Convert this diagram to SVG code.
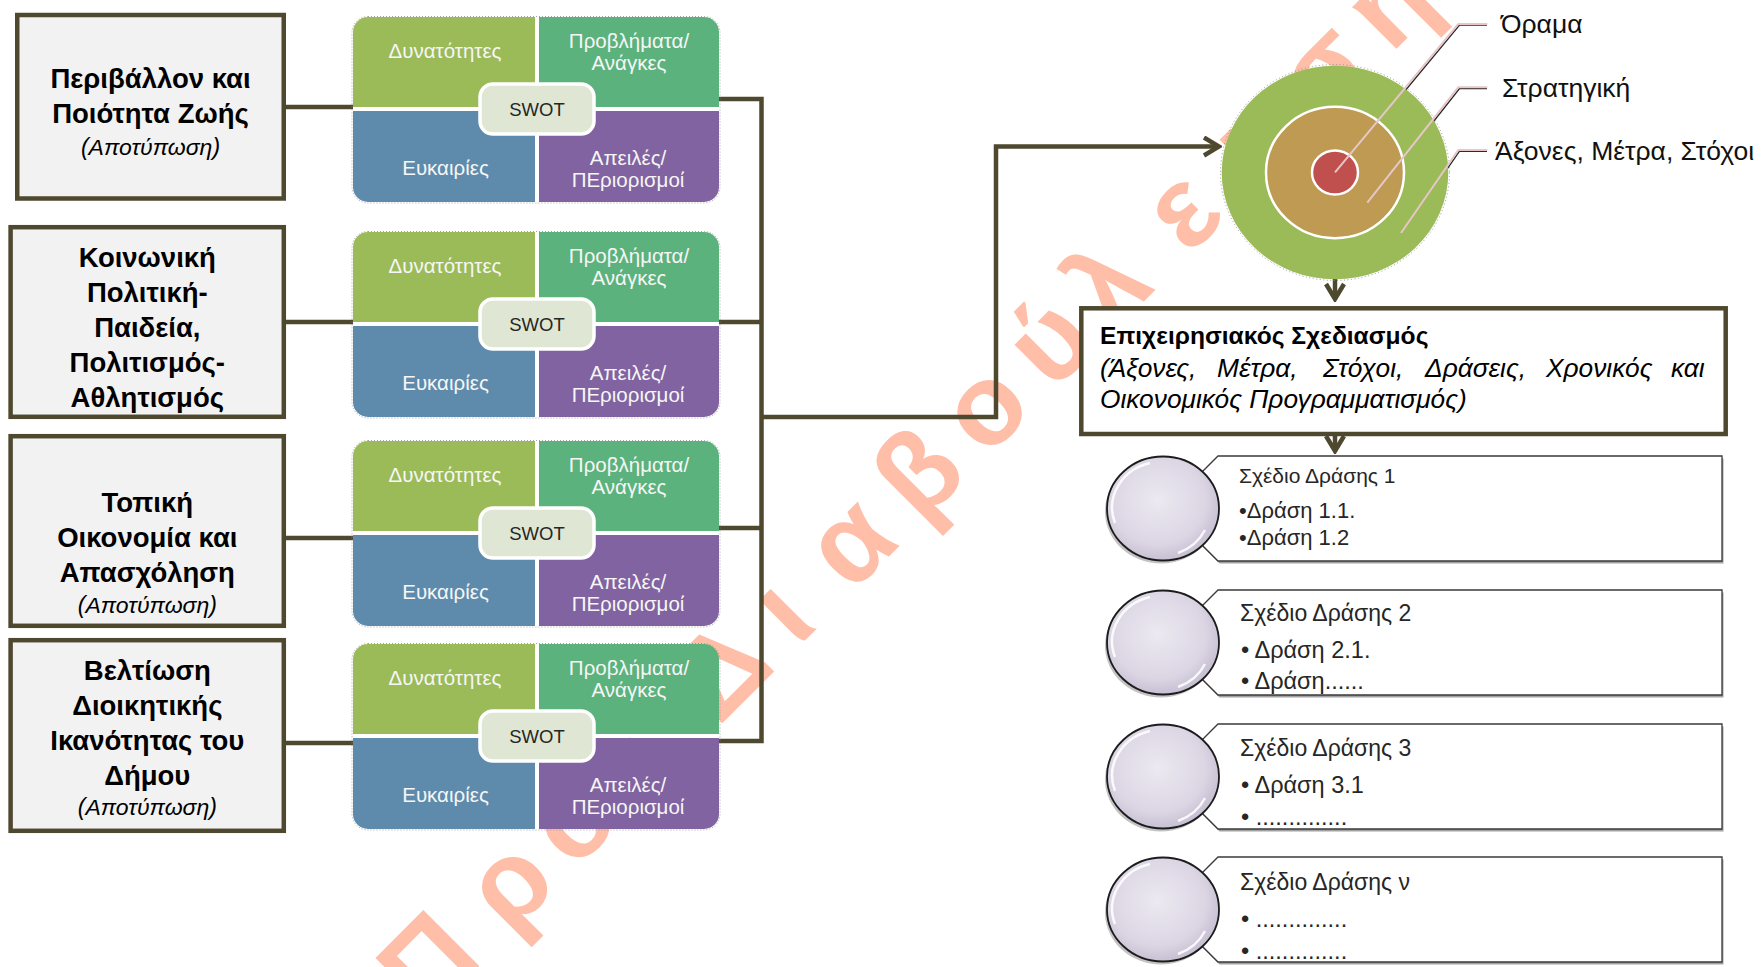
<svg xmlns="http://www.w3.org/2000/svg" width="1762" height="967" viewBox="0 0 1762 967">
<defs>
<style>
.bg{fill:#ffffff}
.wm{font-family:"Liberation Sans",Arial,sans-serif;font-weight:bold;font-size:115px;fill:#ffbea8;text-anchor:middle}
.box{fill:#f2f2f2;stroke:#4e482f;stroke-width:4.5}
.conn{fill:none;stroke:#4e482f;stroke-width:4.5;stroke-linejoin:miter}
.bt{font-family:"Liberation Sans",Arial,sans-serif;font-weight:bold;font-size:27.5px;fill:#000;text-anchor:middle}
.it{font-family:"Liberation Sans",Arial,sans-serif;font-style:italic;font-size:23px;fill:#000;text-anchor:middle}
.q{font-family:"Liberation Sans",Arial,sans-serif;font-size:20.5px;fill:#f6f6f6;text-anchor:middle}
.sw{font-family:"Liberation Sans",Arial,sans-serif;font-size:18.5px;fill:#262626;text-anchor:middle}
.qS{fill:#9bbb59}.qW{fill:#5cb27c}.qO{fill:#5e8bac}.qT{fill:#8063a0}
.lab{fill:#dfe7d4;stroke:#ffffff;stroke-width:3.5}
.sh{fill:none;stroke:#8a8a8a;stroke-width:0.8;stroke-dasharray:1 2}
.tl{font-family:"Liberation Sans",Arial,sans-serif;font-size:26.5px;fill:#111}
.lead{fill:none;stroke:#e6c6c6;stroke-width:2}
.leadsh{fill:none;stroke:#2a2a2a;stroke-width:1.4}
.op{fill:#ffffff;stroke:#4e482f;stroke-width:4.5}
.opb{font-family:"Liberation Sans",Arial,sans-serif;font-weight:bold;font-size:24.6px;fill:#000}
.opi{font-family:"Liberation Sans",Arial,sans-serif;font-style:italic;font-size:26.3px;fill:#000}
.ban{fill:#ffffff;stroke:#3a3a3a;stroke-width:1.3}
.bansh{fill:#6e6e6e;opacity:0.65}
.ball{fill:url(#ball);stroke:#1c1c1c;stroke-width:1.8}
.ballsh{fill:#7a7a7a;opacity:0.45}
.hl{fill:none;stroke:#ffffff;stroke-width:2.5;opacity:0.85}
.pt{font-family:"Liberation Sans",Arial,sans-serif;fill:#262626}
</style>
<marker id="chev" markerUnits="userSpaceOnUse" viewBox="0 0 20 22" markerWidth="20" markerHeight="22" refX="17" refY="11" orient="auto">
<path d="M2,2 L17,11 L2,20" fill="none" stroke="#4e482f" stroke-width="4.5"/>
</marker>
<radialGradient id="ball" cx="0.45" cy="0.42" r="0.6">
<stop offset="0" stop-color="#ece9f1"/>
<stop offset="0.7" stop-color="#dcd6e4"/>
<stop offset="1" stop-color="#c5bdd1"/>
</radialGradient>
</defs>

<rect class="bg" x="0" y="0" width="1762" height="967"/>

<text class="wm" transform="rotate(-45)" x="-378 -265 -175 -100 -40 36 121 218 315 408 500 582 687 790 885 980" y="1022">Προς Διαβούλευση</text>

<g id="connectors">
<path class="conn" d="M286,107 H353"/>
<path class="conn" d="M286,322 H353"/>
<path class="conn" d="M286,538 H353"/>
<path class="conn" d="M286,743 H353"/>
<path class="conn" d="M719,99 H761.5 V741 H719"/>
<path class="conn" d="M719,322 H761.5"/>
<path class="conn" d="M719,528 H761.5"/>
<path class="conn" d="M761.5,417 H996 V146.5 H1219" marker-end="url(#chev)"/>
<path class="conn" d="M1335,279 V299" marker-end="url(#chev)"/>
<path class="conn" d="M1335,436 V451" marker-end="url(#chev)"/>
</g>

<g id="box1">
<rect class="box" x="17.25" y="15" width="266.5" height="183.5"/>
<text class="bt" x="150.5" y="87.5">Περιβάλλον και</text>
<text class="bt" x="150.5" y="122.5">Ποιότητα Ζωής</text>
<text class="it" x="150.5" y="154.5">(Αποτύπωση)</text>
</g>
<g id="box2">
<rect class="box" x="10.6" y="227.2" width="273.2" height="189.6"/>
<text class="bt" x="147.3" y="266.5">Κοινωνική</text>
<text class="bt" x="147.3" y="301.5">Πολιτική-</text>
<text class="bt" x="147.3" y="336.5">Παιδεία,</text>
<text class="bt" x="147.3" y="371.5">Πολιτισμός-</text>
<text class="bt" x="147.3" y="406.5">Αθλητισμός</text>
</g>
<g id="box3">
<rect class="box" x="10.6" y="436.2" width="273.2" height="189.6"/>
<text class="bt" x="147.3" y="511.5">Τοπική</text>
<text class="bt" x="147.3" y="546.5">Οικονομία και</text>
<text class="bt" x="147.3" y="582">Απασχόληση</text>
<text class="it" x="147.3" y="613">(Αποτύπωση)</text>
</g>
<g id="box4">
<rect class="box" x="10.6" y="640.2" width="273.2" height="190.6"/>
<text class="bt" x="147.3" y="679.5">Βελτίωση</text>
<text class="bt" x="147.3" y="715">Διοικητικής</text>
<text class="bt" x="147.3" y="750">Ικανότητας του</text>
<text class="bt" x="147.3" y="784.5">Δήμου</text>
<text class="it" x="147.3" y="815">(Αποτύπωση)</text>
</g>

<g id="swot1" transform="translate(0,17)">
<rect class="sh" x="352" y="-0.5" width="368" height="186.5" rx="16"/>
<path class="qS" d="M368,0 H535 V90 H353 V15 A15,15 0 0 1 368,0 Z"/>
<path class="qW" d="M539,0 H704 A15,15 0 0 1 719,15 V90 H539 Z"/>
<path class="qO" d="M353,94 H535 V185 H368 A15,15 0 0 1 353,170 Z"/>
<path class="qT" d="M539,94 H719 V170 A15,15 0 0 1 704,185 H539 Z"/>
<text class="q" x="445" y="40.5">Δυνατότητες</text>
<text class="q" x="629" y="30.5">Προβλήματα/</text>
<text class="q" x="629" y="53">Ανάγκες</text>
<text class="q" x="445.5" y="157.5">Ευκαιρίες</text>
<text class="q" x="628" y="147.5">Απειλές/</text>
<text class="q" x="628" y="169.5">ΠΕριορισμοί</text>
<rect class="lab" x="480" y="67" width="114" height="50" rx="13"/>
<text class="sw" x="537" y="98.5">SWOT</text>
</g>
<g id="swot2" transform="translate(0,232)">
<rect class="sh" x="352" y="-0.5" width="368" height="186.5" rx="16"/>
<path class="qS" d="M368,0 H535 V90 H353 V15 A15,15 0 0 1 368,0 Z"/>
<path class="qW" d="M539,0 H704 A15,15 0 0 1 719,15 V90 H539 Z"/>
<path class="qO" d="M353,94 H535 V185 H368 A15,15 0 0 1 353,170 Z"/>
<path class="qT" d="M539,94 H719 V170 A15,15 0 0 1 704,185 H539 Z"/>
<text class="q" x="445" y="40.5">Δυνατότητες</text>
<text class="q" x="629" y="30.5">Προβλήματα/</text>
<text class="q" x="629" y="53">Ανάγκες</text>
<text class="q" x="445.5" y="157.5">Ευκαιρίες</text>
<text class="q" x="628" y="147.5">Απειλές/</text>
<text class="q" x="628" y="169.5">ΠΕριορισμοί</text>
<rect class="lab" x="480" y="67" width="114" height="50" rx="13"/>
<text class="sw" x="537" y="98.5">SWOT</text>
</g>
<g id="swot3" transform="translate(0,441)">
<rect class="sh" x="352" y="-0.5" width="368" height="186.5" rx="16"/>
<path class="qS" d="M368,0 H535 V90 H353 V15 A15,15 0 0 1 368,0 Z"/>
<path class="qW" d="M539,0 H704 A15,15 0 0 1 719,15 V90 H539 Z"/>
<path class="qO" d="M353,94 H535 V185 H368 A15,15 0 0 1 353,170 Z"/>
<path class="qT" d="M539,94 H719 V170 A15,15 0 0 1 704,185 H539 Z"/>
<text class="q" x="445" y="40.5">Δυνατότητες</text>
<text class="q" x="629" y="30.5">Προβλήματα/</text>
<text class="q" x="629" y="53">Ανάγκες</text>
<text class="q" x="445.5" y="157.5">Ευκαιρίες</text>
<text class="q" x="628" y="147.5">Απειλές/</text>
<text class="q" x="628" y="169.5">ΠΕριορισμοί</text>
<rect class="lab" x="480" y="67" width="114" height="50" rx="13"/>
<text class="sw" x="537" y="98.5">SWOT</text>
</g>
<g id="swot4" transform="translate(0,644)">
<rect class="sh" x="352" y="-0.5" width="368" height="186.5" rx="16"/>
<path class="qS" d="M368,0 H535 V90 H353 V15 A15,15 0 0 1 368,0 Z"/>
<path class="qW" d="M539,0 H704 A15,15 0 0 1 719,15 V90 H539 Z"/>
<path class="qO" d="M353,94 H535 V185 H368 A15,15 0 0 1 353,170 Z"/>
<path class="qT" d="M539,94 H719 V170 A15,15 0 0 1 704,185 H539 Z"/>
<text class="q" x="445" y="40.5">Δυνατότητες</text>
<text class="q" x="629" y="30.5">Προβλήματα/</text>
<text class="q" x="629" y="53">Ανάγκες</text>
<text class="q" x="445.5" y="157.5">Ευκαιρίες</text>
<text class="q" x="628" y="147.5">Απειλές/</text>
<text class="q" x="628" y="169.5">ΠΕριορισμοί</text>
<rect class="lab" x="480" y="67" width="114" height="50" rx="13"/>
<text class="sw" x="537" y="98.5">SWOT</text>
</g>

<g id="target">
<path class="leadsh" d="M1336.5,173.5 L1459.5,25 H1487"/>
<path class="leadsh" d="M1368.5,204 L1459.5,88.5 H1487"/>
<path class="leadsh" d="M1402,234 L1459.5,151.2 H1487"/>
<ellipse cx="1335" cy="172.5" rx="114.5" ry="108" fill="none" stroke="#8a8a8a" stroke-width="0.9" stroke-dasharray="1 2.5"/>
<ellipse cx="1335" cy="172.5" rx="113.3" ry="106.8" fill="#9bbb59"/>
<ellipse cx="1335" cy="172.5" rx="69" ry="65.7" fill="#bf9a52" stroke="#ffffff" stroke-width="2.5"/>
<ellipse cx="1335" cy="172.5" rx="23" ry="22" fill="#c0504d" stroke="#ffffff" stroke-width="2.5"/>
<path class="lead" d="M1335,172.3 L1458.3,24 H1487.3"/>
<path class="lead" d="M1367.3,202.7 L1458.3,87.3 H1487.3"/>
<path class="lead" d="M1401,233 L1458.3,150 H1487.3"/>
<text class="tl" x="1501" y="33">Όραμα</text>
<text class="tl" x="1502" y="97">Στρατηγική</text>
<text class="tl" x="1495" y="160">Άξονες, Μέτρα, Στόχοι</text>
</g>

<g id="operational">
<rect class="op" x="1081.3" y="308.3" width="644.4" height="125.7"/>
<text class="opb" x="1100" y="344">Επιχειρησιακός Σχεδιασμός</text>
<text class="opi" y="377"><tspan x="1100">(Άξονες,</tspan><tspan x="1217">Μέτρα,</tspan><tspan x="1323">Στόχοι,</tspan><tspan x="1425">Δράσεις,</tspan><tspan x="1546">Χρονικός</tspan><tspan x="1671">και</tspan></text>
<text class="opi" x="1100" y="408">Οικονομικός Προγραμματισμός)</text>
</g>

<g id="plan1">
<polygon class="bansh" points="1219.5,458.5 1723.5,458.5 1723.5,563.5 1219.5,563.5 1167,511"/>
<polygon class="ban" points="1218,456 1722,456 1722,561 1218,561 1165.5,508.5"/>
<ellipse class="ballsh" cx="1161" cy="511.5" rx="56" ry="52"/>
<ellipse class="ball" cx="1163" cy="508.5" rx="56" ry="52"/>
<path class="hl" d="M1115,523 A50,46 0 0 1 1150,463"/>
<path class="hl" d="M1205,530 A50,46 0 0 1 1178,553"/>
<text class="pt" x="1239" y="482.5" font-size="21">Σχέδιο Δράσης 1</text>
<text class="pt" x="1239" y="518" font-size="22">•Δράση 1.1.</text>
<text class="pt" x="1239" y="545" font-size="22">•Δράση 1.2</text>
</g>
<g id="plan2">
<polygon class="bansh" points="1219.5,592.5 1723.5,592.5 1723.5,697.5 1219.5,697.5 1167,645"/>
<polygon class="ban" points="1218,590 1722,590 1722,695 1218,695 1165.5,642.5"/>
<ellipse class="ballsh" cx="1161" cy="645.5" rx="56" ry="52"/>
<ellipse class="ball" cx="1163" cy="642.5" rx="56" ry="52"/>
<path class="hl" d="M1115,657 A50,46 0 0 1 1150,597"/>
<path class="hl" d="M1205,664 A50,46 0 0 1 1178,687"/>
<text class="pt" x="1240" y="621" font-size="23">Σχέδιο Δράσης 2</text>
<text class="pt" x="1241" y="657.5" font-size="23.5">• Δράση 2.1.</text>
<text class="pt" x="1241" y="689" font-size="23.5">• Δράση......</text>
</g>
<g id="plan3">
<polygon class="bansh" points="1219.5,726.5 1723.5,726.5 1723.5,831.5 1219.5,831.5 1167,779"/>
<polygon class="ban" points="1218,724 1722,724 1722,829 1218,829 1165.5,776.5"/>
<ellipse class="ballsh" cx="1161" cy="779.5" rx="56" ry="52"/>
<ellipse class="ball" cx="1163" cy="776.5" rx="56" ry="52"/>
<path class="hl" d="M1115,791 A50,46 0 0 1 1150,731"/>
<path class="hl" d="M1205,798 A50,46 0 0 1 1178,821"/>
<text class="pt" x="1240" y="756" font-size="23">Σχέδιο Δράσης 3</text>
<text class="pt" x="1241" y="793" font-size="23.5">• Δράση 3.1</text>
<text class="pt" x="1241" y="825" font-size="23.5">• ..............</text>
</g>
<g id="plan4">
<polygon class="bansh" points="1219.5,859.5 1723.5,859.5 1723.5,964.5 1219.5,964.5 1167,912"/>
<polygon class="ban" points="1218,857 1722,857 1722,962 1218,962 1165.5,909.5"/>
<ellipse class="ballsh" cx="1161" cy="912.5" rx="56" ry="52"/>
<ellipse class="ball" cx="1163" cy="909.5" rx="56" ry="52"/>
<path class="hl" d="M1115,924 A50,46 0 0 1 1150,864"/>
<path class="hl" d="M1205,931 A50,46 0 0 1 1178,954"/>
<text class="pt" x="1240" y="890" font-size="23">Σχέδιο Δράσης ν</text>
<text class="pt" x="1241" y="927" font-size="23.5">• ..............</text>
<text class="pt" x="1241" y="959" font-size="23.5">• ..............</text>
</g>
</svg>
